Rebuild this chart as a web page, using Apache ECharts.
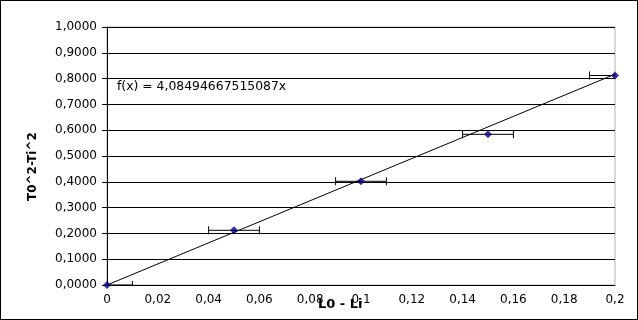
<!DOCTYPE html>
<html>
	<head>
		<meta charset="UTF-8">
		<title>T0^2-Ti^2</title>
		<style>
			html,body{margin:0;padding:0;background:#fff;}
			#chart{width:638px;height:320px;box-sizing:border-box;border:1px solid #000;}
		</style>
	</head>
	<body>
		<div id="chart"></div>
		<script type="text/javascript" src="https://cdn.jsdelivr.net/npm/echarts@6/dist/echarts.min.js"></script>
		<script type="text/javascript">
			var xValues = [0, 0.05, 0.1, 0.15, 0.2];
			var yValues = [0, 0.212, 0.402, 0.584, 0.812];
			var xErrors = [0.01, 0.01, 0.01, 0.01, 0.01];
			var slope = 4.08494667515087;
			var trendX = [0, 0.2];
			var eqLabel = 'f(x) = 4,08494667515087x';

			var pointData = xValues.map(function(x, i){ return [x, yValues[i]]; });
			var errData = xValues.map(function(x, i){ return [x - xErrors[i], x + xErrors[i], yValues[i]]; });
			var trendData = trendX.map(function(x){ return [x, slope * x]; });

			var chart = echarts.init(document.getElementById('chart'));
			var axisText = {color:'#000', fontFamily:'DejaVu Sans', fontSize:12};
			chart.setOption({
				animation:false,
				grid:{
					left:106, right:22, top:26, bottom:34,
					show:true, borderColor:'#b3b3b3', borderWidth:1
				},
				xAxis:{
					type:'value', min:0, max:0.2, interval:0.02,
					axisLine:{show:true, onZero:false, lineStyle:{color:'#000'}},
					axisTick:{show:false},
					splitLine:{show:false},
					axisLabel:Object.assign({margin:9, formatter:function(v){
						return parseFloat(v.toFixed(2)).toString().replace('.', ',');
					}}, axisText)
				},
				yAxis:{
					type:'value', min:0, max:1, interval:0.1,
					axisLine:{show:true, lineStyle:{color:'#000'}},
					axisTick:{show:true, length:5, lineStyle:{color:'#000'}},
					splitLine:{show:true, lineStyle:{color:'#000'}},
					axisLabel:Object.assign({margin:10, formatter:function(v){
						return v.toFixed(4).replace('.', ',');
					}}, axisText)
				},
				graphic:[
					{type:'text', left:116, top:80, style:{text:eqLabel, fill:'#000', font:'12.4px "DejaVu Sans"'}},
					{type:'text', left:317, top:297, style:{text:'L0 - Li', fill:'#000', font:'bold 13px "DejaVu Sans"'}},
					{type:'text', x:26, y:200, rotation:Math.PI/2, style:{text:'T0^2-Ti^2', fill:'#000', font:'bold 12px "DejaVu Sans"'}}
				],
				series:[
					{
						type:'line', data:trendData, symbol:'none', silent:true,
						lineStyle:{color:'#000', width:1}, z:3
					},
					{
						type:'custom', data:errData, clip:true, z:4,
						encode:{x:[0,1], y:2},
						renderItem:function(params, api){
							var lo = api.coord([api.value(0), api.value(2)]);
							var hi = api.coord([api.value(1), api.value(2)]);
							var h = 4;
							var style = {stroke:'#000', lineWidth:1};
							return {type:'group', children:[
								{type:'line', shape:{x1:lo[0], y1:lo[1], x2:hi[0], y2:hi[1]}, style:style},
								{type:'line', shape:{x1:lo[0], y1:lo[1]-h, x2:lo[0], y2:lo[1]+h}, style:style},
								{type:'line', shape:{x1:hi[0], y1:hi[1]-h, x2:hi[0], y2:hi[1]+h}, style:style}
							]};
						}
					},
					{
						type:'scatter', data:pointData, symbol:'diamond', symbolSize:8,
						itemStyle:{color:'#000080'}, z:5, clip:false
					}
				]
			});
		</script>
	</body>
</html>
